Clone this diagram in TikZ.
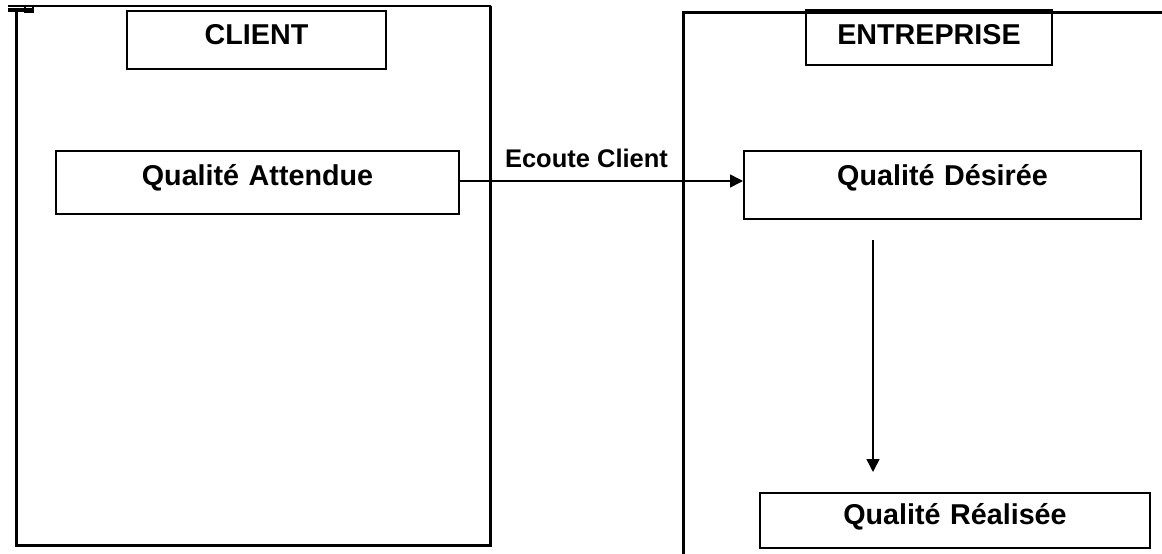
\documentclass[tikz,border=0pt]{standalone}
\usepackage{fontspec}
\setmainfont{Liberation Sans}
\usetikzlibrary{arrows.meta}
\tikzset{
  frameline/.style={line width=3pt},
  thinframe/.style={line width=1.8pt},
  labelbox/.style={draw, line width=2pt, anchor=north west, inner sep=0pt,
    align=center, font=\fontsize{28.7}{30}\selectfont\bfseries},
  flow/.style={line width=1.5pt, -{Triangle[length=13pt,width=13pt]}},
  flowtext/.style={font=\fontsize{25.5}{28}\selectfont\bfseries, inner sep=0pt, anchor=base}
}
\begin{document}
\begin{tikzpicture}[x=1pt,y=-1pt]
\useasboundingbox (0,0) rectangle (1162,554);

% client frame
\draw[thinframe] (8,6) -- (491,6);
\fill (8,8) rectangle (33,12);
\draw[line width=1.2pt] (25,6) rectangle (33,12.5);
\draw[frameline] (16.5,8) -- (16.5,545.5) -- (490.5,545.5) -- (490.5,6);

% entreprise frame (open at the right and bottom)
\draw[frameline] (683,554) -- (683,12) -- (1162,12);

% title boxes
\node[labelbox, text width=259pt, text height=33pt, text depth=25pt] (client) at (126,10) {CLIENT};
\node[labelbox, text width=246pt, text height=33pt, text depth=21pt] (entreprise) at (805,10) {ENTREPRISE};
\draw[line width=3pt] (entreprise.north west) -- (entreprise.north east);

% quality boxes
\node[labelbox, text width=403pt, text height=34pt, text depth=29pt] (attendue) at (55,150) {Qualité Attendue};
\node[labelbox, text width=397pt, text height=34pt, text depth=34pt] (desiree) at (743,150) {Qualité Désirée};
\node[labelbox, text width=390pt, text height=31pt, text depth=24pt] (realisee) at (759,492) {Qualité Réalisée};

% listening arrow
\draw[flow] (attendue.east |- 0,181) -- (desiree.west |- 0,181);
\node[flowtext] (ecoute) at (586.5,167) {Ecoute Client};

% realisation arrow
\coordinate (dstart) at (873,240);
\coordinate (dend) at (873,472);
\draw[flow] (dstart) -- (dend);
\end{tikzpicture}
\end{document}
